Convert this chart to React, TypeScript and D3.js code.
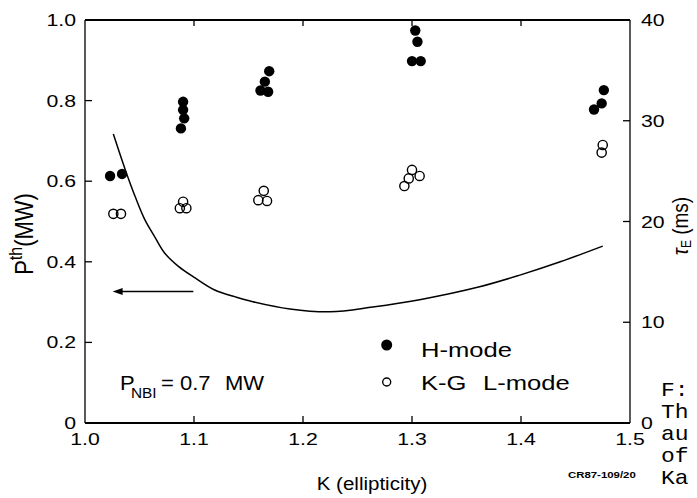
import React from 'react';
import * as d3 from 'd3';

const W = 697;
const H = 498;

// Axis ticks
const xTicks = [1.0, 1.1, 1.2, 1.3, 1.4, 1.5];
const xTickLabels = ['1.0', '1.1', '1.2', '1.3', '1.4', '1.5'];
const yLTicks = [0, 0.2, 0.4, 0.6, 0.8, 1.0];
const yLTickLabels = ['0', '0.2', '0.4', '0.6', '0.8', '1.0'];
const yRTicks = [0, 10, 20, 30, 40];
const yRTickLabels = ['0', '10', '20', '30', '40'];

// H-mode (filled circles)
const hModeK = [1.023, 1.034, 1.090, 1.090, 1.091, 1.088, 1.169, 1.165, 1.161, 1.168, 1.303, 1.305, 1.300, 1.308, 1.476, 1.474, 1.467];
const hModeP = [0.613, 0.618, 0.797, 0.777, 0.756, 0.731, 0.873, 0.847, 0.825, 0.822, 0.974, 0.946, 0.898, 0.898, 0.826, 0.793, 0.778];

// K-G L-mode (open circles)
const lModeK = [1.026, 1.033, 1.090, 1.087, 1.093, 1.164, 1.159, 1.167, 1.300, 1.307, 1.297, 1.293, 1.475, 1.474];
const lModeP = [0.519, 0.519, 0.549, 0.533, 0.533, 0.576, 0.553, 0.551, 0.628, 0.613, 0.607, 0.588, 0.690, 0.671];

// Threshold curve
const curveK = [1.026, 1.037, 1.046, 1.055, 1.064, 1.073, 1.086, 1.101, 1.119, 1.138, 1.154, 1.188, 1.225, 1.264, 1.307, 1.362, 1.399, 1.436, 1.475];
const curveP = [0.717, 0.628, 0.562, 0.504, 0.462, 0.422, 0.388, 0.360, 0.330, 0.313, 0.301, 0.283, 0.276, 0.288, 0.306, 0.338, 0.367, 0.400, 0.439];

// Arrow (data coords)
const arrowK = [1.0994, 1.0336];
const arrowP = 0.326;

// visible (clipped) caption fragments at the right edge
const captionLines = ['F:', 'Th', 'au', 'of', 'Ka'];

const FONT = 'Liberation Sans, Arial, Helvetica, sans-serif';

function T({ x, y, sx = 1, anchor = 'start', size = 17, weight = 'normal', family = FONT, children }: any) {
  return (
    <text
      transform={`translate(${x},${y}) scale(${sx},1)`}
      textAnchor={anchor}
      fontSize={size}
      fontWeight={weight}
      fontFamily={family}
      fill="#000"
    >
      {children}
    </text>
  );
}

export default function App() {
  const left = 85, right = 630, top = 20, bottom = 423;
  const x = d3.scaleLinear().domain([1.0, 1.5]).range([left, right]);
  const yL = d3.scaleLinear().domain([0, 1]).range([bottom, top]);
  const yR = d3.scaleLinear().domain([0, 40]).range([bottom, top]);

  const line = d3
    .line<number>()
    .x((_, i) => x(curveK[i]))
    .y((_, i) => yL(curveP[i]))
    .curve(d3.curveCatmullRom.alpha(0.5));

  const ax0 = x(arrowK[0]);
  const ax1 = x(arrowK[1]);
  const ay = yL(arrowP);

  return (
    <svg
      width={W}
      height={H}
      style={{ position: 'absolute', left: 0, top: 0, background: '#fff' }}
    >
      <rect x={0} y={0} width={W} height={H} fill="#fff" />

      {/* frame */}
      <line x1={left} x2={right} y1={top} y2={top} stroke="#000" strokeWidth={2} />
      <line x1={left} x2={right} y1={bottom} y2={bottom} stroke="#000" strokeWidth={2.2} />
      <line x1={left} x2={left} y1={top} y2={bottom} stroke="#000" strokeWidth={1.3} />
      <line x1={right} x2={right} y1={top} y2={bottom} stroke="#000" strokeWidth={1.3} />

      {/* x ticks (bottom & top, inward) */}
      {xTicks.map((t, i) => (
        <g key={'xt' + i}>
          {i > 0 && i < xTicks.length - 1 && (
            <>
              <line x1={x(t)} x2={x(t)} y1={bottom} y2={bottom - 7} stroke="#000" strokeWidth={1.3} />
              <line x1={x(t)} x2={x(t)} y1={top} y2={top + 6} stroke="#000" strokeWidth={1.3} />
            </>
          )}
          <T x={x(t)} y={bottom + 22} anchor="middle" size={17} sx={1.25}>
            {xTickLabels[i]}
          </T>
        </g>
      ))}

      {/* left y ticks */}
      {yLTicks.map((t, i) => (
        <g key={'yl' + i}>
          {i > 0 && i < yLTicks.length - 1 && (
            <line x1={left} x2={left + 7} y1={yL(t)} y2={yL(t)} stroke="#000" strokeWidth={1.3} />
          )}
          <T x={76} y={yL(t) + 6} anchor="end" size={17} sx={1.25}>
            {yLTickLabels[i]}
          </T>
        </g>
      ))}

      {/* right y ticks */}
      {yRTicks.map((t, i) => (
        <g key={'yr' + i}>
          {i > 0 && i < yRTicks.length - 1 && (
            <line x1={right} x2={right - 7} y1={yR(t)} y2={yR(t)} stroke="#000" strokeWidth={1.3} />
          )}
          <T x={641} y={yR(t) + 6} anchor="start" size={17} sx={1.25}>
            {yRTickLabels[i]}
          </T>
        </g>
      ))}

      {/* curve */}
      <path d={line(curveK) || ''} fill="none" stroke="#000" strokeWidth={1.5} />

      {/* arrow */}
      <line x1={ax0} x2={ax1} y1={ay} y2={ay} stroke="#000" strokeWidth={1.5} />
      <path d={`M${ax1 - 9},${ay} L${ax1 + 1},${ay - 3.5} L${ax1 + 1},${ay + 3.5} Z`} fill="#000" />

      {/* L-mode open circles */}
      {lModeK.map((k, i) => (
        <circle key={'lo' + i} cx={x(k)} cy={yL(lModeP[i])} r={4.6} fill="none" stroke="#000" strokeWidth={1.4} />
      ))}

      {/* H-mode filled circles */}
      {hModeK.map((k, i) => (
        <circle key={'hf' + i} cx={x(k)} cy={yL(hModeP[i])} r={5.2} fill="#000" />
      ))}

      {/* legend */}
      <circle cx={386.7} cy={345} r={5.5} fill="#000" />
      <T x={421} y={357} size={20} sx={1.28}>H-mode</T>
      <circle cx={386.7} cy={382} r={4} fill="none" stroke="#000" strokeWidth={1.4} />
      <T x={421} y={390} size={20} sx={1.28}>K-G</T>
      <T x={483} y={390} size={20} sx={1.28}>L-mode</T>

      {/* P_NBI annotation */}
      <T x={120} y={390} size={20} sx={1.1}>P</T>
      <T x={131} y={398} size={14} sx={1.1}>NBI</T>
      <T x={161} y={390} size={20} sx={1.1}>=</T>
      <T x={180} y={390} size={20} sx={1.1}>0.7</T>
      <T x={225} y={390} size={20} sx={1.1}>MW</T>

      {/* axis titles */}
      <T x={372} y={490} anchor="middle" size={19} sx={1.08}>K (ellipticity)</T>

      <text
        transform="translate(33,234) rotate(-90) scale(1,1.2)"
        textAnchor="middle"
        fontSize={22}
        fontFamily={FONT}
        fill="#000"
      >
        P
        <tspan fontSize={16} dy={-9}>th</tspan>
        <tspan fontSize={22} dy={9}>(MW)</tspan>
      </text>

      <text
        transform="translate(688,226) rotate(-90) scale(1,1.15)"
        textAnchor="middle"
        fontSize={19}
        fontFamily={FONT}
        fill="#000"
      >
        <tspan fontStyle="italic">τ</tspan>
        <tspan fontSize={12} dy={3}>E</tspan>
        <tspan fontSize={19} dy={-3}> (ms)</tspan>
      </text>

      {/* figure id */}
      <T x={568} y={478} size={9.5} weight="bold" sx={1.2}>CR87-109/20</T>

      {/* clipped caption fragments on the right */}
      {captionLines.map((s, i) => (
        <T key={'cap' + i} x={661} y={396 + i * 22} size={20} sx={1.15} family="Liberation Mono, Courier New, monospace">
          {s}
        </T>
      ))}
    </svg>
  );
}
